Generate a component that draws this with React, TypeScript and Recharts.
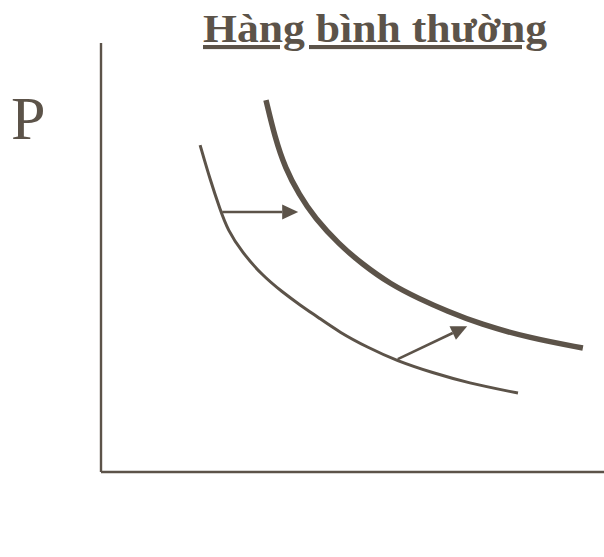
import React from "react";
import { LineChart, Line, XAxis, YAxis, ReferenceLine, Customized } from "recharts";

const INK = "#5c5349";

// Original demand curve (Q, P)
const demand1Q = [1.97, 2.17, 2.37, 2.52, 2.8, 3.2, 3.6, 3.96, 4.31, 4.75, 5.29, 5.88, 6.6, 7.28, 8.29];
const demand1P = [7.62, 6.81, 6.11, 5.64, 5.13, 4.59, 4.2, 3.89, 3.61, 3.25, 2.91, 2.59, 2.31, 2.08, 1.84];

// Shifted demand curve (Q, P)
const demand2Q = [3.28, 3.46, 3.66, 3.94, 4.25, 4.73, 5.19, 5.75, 6.34, 6.88, 7.53, 8.53, 9.58];
const demand2P = [8.67, 7.79, 7.09, 6.46, 5.92, 5.31, 4.85, 4.38, 4.03, 3.75, 3.45, 3.12, 2.89];

// Shift arrows: [fromQ, fromP, toQ, toP]
const arrow1 = [2.41, 6.06, 3.92, 6.06];
const arrow2 = [5.9, 2.63, 7.28, 3.4];

const titleText = "Hàng bình thường";
const yLabel = "P";

const d1 = demand1Q.map((q, i) => ({ q, p: demand1P[i] }));
const d2 = demand2Q.map((q, i) => ({ q, p: demand2P[i] }));

const ArrowShape = (props: any) => {
  const { x1, y1, x2, y2 } = props;
  const ang = Math.atan2(y2 - y1, x2 - x1);
  const len = 16;
  const half = 7.5;
  const bx = x2 - len * Math.cos(ang);
  const by = y2 - len * Math.sin(ang);
  const px = -Math.sin(ang) * half;
  const py = Math.cos(ang) * half;
  return (
    <g>
      <line x1={x1} y1={y1} x2={bx} y2={by} stroke={INK} strokeWidth={2.6} />
      <polygon
        points={`${x2},${y2} ${bx + px},${by + py} ${bx - px},${by - py}`}
        fill={INK}
      />
    </g>
  );
};

const Texts = () => (
  <g>
    <text
      x={203}
      y={42}
      textLength={344}
      lengthAdjust="spacingAndGlyphs"
      fontFamily="'Liberation Serif', 'Times New Roman', serif"
      fontWeight="bold"
      fontSize={41}
      fill={INK}
      style={{ textDecoration: "underline" }}
    >
      {titleText}
    </text>
    <text
      x={11}
      y={139}
      fontFamily="'Liberation Serif', 'Times New Roman', serif"
      fontSize={62}
      fill={INK}
    >
      {yLabel}
    </text>
  </g>
);

export default function App() {
  return (
    <div style={{ position: "absolute", left: 0, top: 0, width: 604, height: 557, background: "#fff" }}>
      <LineChart
        width={604}
        height={557}
        margin={{ top: 43, right: 0, bottom: 85, left: 101 }}
      >
        <XAxis
          type="number"
          dataKey="q"
          domain={[0, 10]}
          height={0}
          hide
          allowDataOverflow
        />
        <YAxis
          type="number"
          dataKey="p"
          domain={[0, 10]}
          width={0}
          hide
          allowDataOverflow
        />
        <ReferenceLine x={0} stroke={INK} strokeWidth={2.4} ifOverflow="visible" />
        <ReferenceLine y={0} stroke={INK} strokeWidth={2.4} ifOverflow="visible" />
        <Line
          data={d1}
          dataKey="p"
          type="basis"
          stroke={INK}
          strokeWidth={3}
          dot={false}
          isAnimationActive={false}
        />
        <Line
          data={d2}
          dataKey="p"
          type="basis"
          stroke={INK}
          strokeWidth={5.5}
          dot={false}
          isAnimationActive={false}
        />
        <ReferenceLine
          segment={[
            { x: arrow1[0], y: arrow1[1] },
            { x: arrow1[2], y: arrow1[3] },
          ]}
          shape={ArrowShape}
          ifOverflow="visible"
        />
        <ReferenceLine
          segment={[
            { x: arrow2[0], y: arrow2[1] },
            { x: arrow2[2], y: arrow2[3] },
          ]}
          shape={ArrowShape}
          ifOverflow="visible"
        />
        <Customized component={Texts} />
      </LineChart>
    </div>
  );
}
